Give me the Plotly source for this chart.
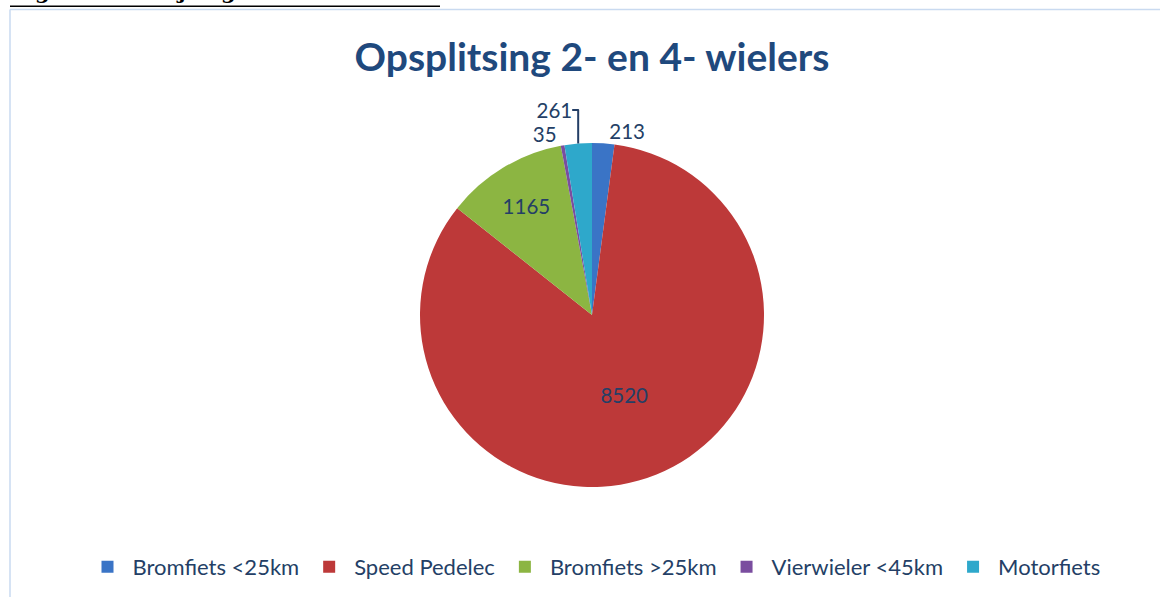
import plotly.graph_objects as go

categories = ["Bromfiets <25km", "Speed Pedelec", "Bromfiets >25km", "Vierwieler <45km", "Motorfiets"]
values = [213, 8520, 1165, 35, 261]
colors = ["#3a74c6", "#bd3939", "#8cb542", "#7a4d9f", "#2ea8cb"]
text_positions = ["outside", "inside", "inside", "outside", "outside"]

W, H = 1160, 597
cx, cy, r = 592, 315, 172
FONT = "Lato, Noto Sans, sans-serif"
TXT = "#243f66"

fig = go.Figure(go.Pie(
    labels=categories,
    values=values,
    sort=False,
    direction="clockwise",
    rotation=0,
    marker=dict(colors=colors, line=dict(width=0)),
    textinfo="value",
    textposition=text_positions,
    insidetextorientation="horizontal",
    textfont=dict(family=FONT, size=20.5, color=TXT),
    outsidetextfont=dict(family=FONT, size=20.5, color=TXT),
    insidetextfont=dict(family=FONT, size=20.5, color=TXT),
    hoverinfo="label+value",
    domain=dict(x=[(cx - r) / W, (cx + r) / W], y=[(H - cy - r) / H, (H - cy + r) / H]),
))

fig.update_layout(
    width=W, height=H,
    margin=dict(l=0, r=0, t=0, b=0),
    paper_bgcolor="white",
    title=dict(text="<b>Opsplitsing 2- en 4- wielers</b>", x=592 / W, xanchor="center",
               y=1 - 57 / H, yanchor="middle",
               font=dict(family=FONT, size=39, color="#1f497d")),
    legend=dict(orientation="h", x=594 / W, xanchor="center", y=1 - 567 / H, yanchor="middle",
                font=dict(family=FONT, size=22, color=TXT),
                itemwidth=40, traceorder="normal"),
    shapes=[
        dict(type="line", xref="paper", yref="paper", x0=10 / W, x1=1, y0=1 - 9.5 / H, y1=1 - 9.5 / H,
             line=dict(color="#c9daf0", width=1.5)),
        dict(type="line", xref="paper", yref="paper", x0=10 / W, x1=10 / W, y0=0, y1=1 - 9.5 / H,
             line=dict(color="#c9daf0", width=1.5)),
        dict(type="line", xref="paper", yref="paper", x0=10 / W, x1=440 / W, y0=1 - 6.3 / H, y1=1 - 6.3 / H,
             line=dict(color="black", width=1.6)),
    ],
    annotations=[
        dict(text="<b>Fig. 4: Inschrijvingen LEV 2018</b>", xref="paper", yref="paper",
             x=10 / W, xanchor="left", y=1 - 6 / H, yanchor="bottom", showarrow=False,
             font=dict(family="DejaVu Serif, serif", size=21, color="black")),
    ],
)

fig.write_html("out.html", config={"displayModeBar": False})

with open("out.html", "r", encoding="utf-8") as f:
    html = f.read()
html = html.replace("<head>", "<head><style>html,body{margin:0;padding:0;overflow:hidden;}</style>", 1)
with open("out.html", "w", encoding="utf-8") as f:
    f.write(html)
